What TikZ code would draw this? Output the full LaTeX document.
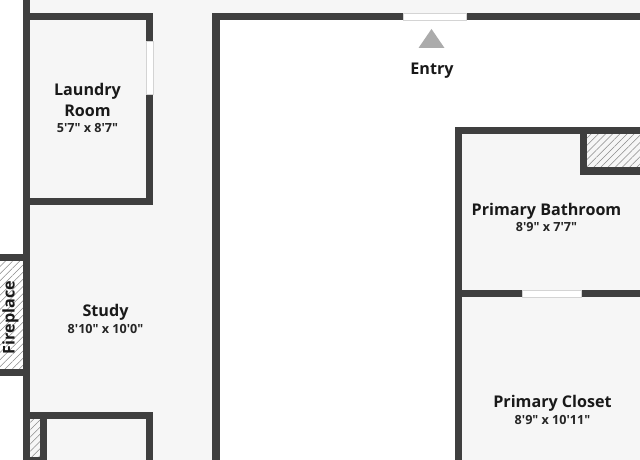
\documentclass[tikz,border=0pt]{standalone}
\usepackage{fontspec}
\setmainfont{Open Sans}[Ligatures=TeXOff]
\usetikzlibrary{patterns.meta}
\definecolor{wallgray}{HTML}{3F3F3F}
\definecolor{floorgray}{HTML}{F6F6F6}
\definecolor{hatchgray}{HTML}{8A8A8A}
\definecolor{doorline}{HTML}{D4D4D4}
\definecolor{entrygray}{HTML}{ABABAB}
\begin{document}
\begin{tikzpicture}[x=0.75pt,y=-0.75pt,
    wall/.style={fill=wallgray,draw=none},
    floor/.style={fill=floorgray,draw=none},
    door/.style={fill=white,draw=doorline,line width=0.5pt},
    hatch/.style={draw=none,pattern={Lines[angle=45,distance=3.8pt,line width=0.4pt]},pattern color=hatchgray},
    roomname/.style={font=\fontsize{12.1pt}{12pt}\selectfont\bfseries,text=black!90,inner sep=0pt,align=center},
    roomsize/.style={font=\fontsize{9.45pt}{10pt}\selectfont\bfseries,text=black!85,inner sep=0pt}]
    \useasboundingbox (0,0) rectangle (640,460);
    \fill[white] (0,0) rectangle (640,460);
    \fill[floor] (26,0) rectangle (640,16);
    \fill[floor] (26,0) rectangle (216,460);
    \fill[floor] (458,130) rectangle (640,460);
    \fill[hatch] (0,261) rectangle (23,369);
    \fill[hatch] (587,134) rectangle (640,167);
    \fill[hatch] (30,419) rectangle (40,457);

    \fill[wall] (23,0) rectangle (30,460);
    \fill[wall] (23,13) rectangle (153,20);
    \fill[wall] (146,13) rectangle (153,205);
    \fill[wall] (23,198) rectangle (153,205);
    \fill[wall] (212,13) rectangle (640,20);
    \fill[wall] (212,13) rectangle (220,460);
    \fill[wall] (455,127) rectangle (640,134);
    \fill[wall] (455,127) rectangle (462,460);
    \fill[wall] (580,134) rectangle (587,175);
    \fill[wall] (580,167) rectangle (640,175);
    \fill[wall] (462,290) rectangle (640,297);
    \fill[wall] (0,254) rectangle (23,261);
    \fill[wall] (0,369) rectangle (23,376);
    \fill[wall] (23,412) rectangle (153,419);
    \fill[wall] (40,412) rectangle (47,460);
    \fill[wall] (146,412) rectangle (153,460);
    \fill[wall] (30,457) rectangle (40,460);

    \filldraw[door] (146,41) rectangle (153,94);
    \filldraw[door] (403,13) rectangle (466,20);
    \filldraw[door] (522,290) rectangle (581,297);
    \fill[entrygray] (431.5,29) -- (444.5,48) -- (418.5,48) -- cycle;

    \node[roomname] (entry) at (432,70.5) {Entry};
    \node[roomname] (laundry) at (87.5,91.5) {Laundry};
    \node[roomname] (room) at (87.5,110.5) {Room};
    \node[roomsize] (laundrysize) at (87.5,128.5) {5'7" x 8'7"};
    \node[roomname] (study) at (105.5,312.5) {Study};
    \node[roomsize] (studysize) at (105.5,328.5) {8'10" x 10'0"};
    \node[roomname,rotate=90] (fireplace) at (10.5,317.5) {Fireplace};
    \node[roomname] (bathroom) at (546.5,211) {Primary Bathroom};
    \node[roomsize] (bathroomsize) at (546.5,227.5) {8'9" x 7'7"};
    \node[roomname] (closet) at (552.5,403) {Primary Closet};
    \node[roomsize] (closetsize) at (552.5,419.5) {8'9" x 10'11"};
\end{tikzpicture}
\end{document}
